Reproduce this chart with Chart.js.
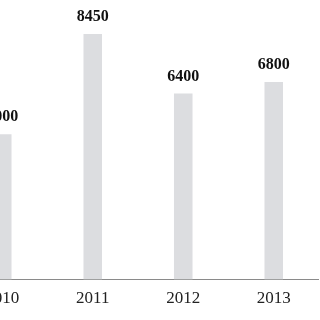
<!DOCTYPE html>
<html>
<head>
<meta charset="utf-8">
<script src="https://cdn.jsdelivr.net/npm/chart.js@4/dist/chart.umd.min.js"></script>
<style>
  html, body { margin: 0; padding: 0; background: #fff; overflow: hidden; width: 320px; height: 320px; }
  #wrap { position: absolute; left: -43px; top: -11px; width: 362px; height: 329px; }
</style>
</head>
<body>
<div id="wrap"><canvas id="mychart"></canvas></div>
<script>
var years = ['2010', '2011', '2012', '2013'];
var values = [5000, 8450, 6400, 6800];

// draw the numbers on top of each bar
var topLabels = {
  id: 'topLabels',
  afterDatasetsDraw: function(chart) {
    var ctx = chart.ctx;
    var meta = chart.getDatasetMeta(0);
    ctx.save();
    ctx.font = 'bold 16px "Liberation Serif", "Times New Roman", serif';
    ctx.fillStyle = '#111';
    ctx.textAlign = 'center';
    ctx.textBaseline = 'alphabetic';
    for (var i = 0; i < meta.data.length; i++) {
      var bar = meta.data[i];
      ctx.fillText(String(values[i]), bar.x, bar.y - 13);
    }
    ctx.restore();
  }
};

var ctx = document.getElementById('mychart').getContext('2d');
var chart = new Chart(ctx, {
  type: 'bar',
  data: {
    labels: years,
    datasets: [{
      data: values,
      backgroundColor: '#dcdde0',
      borderWidth: 0,
      barPercentage: 0.205,
      categoryPercentage: 1
    }]
  },
  options: {
    responsive: true,
    maintainAspectRatio: false,
    animation: false,
    layout: { padding: 0 },
    plugins: { legend: { display: false }, tooltip: { enabled: false } },
    scales: {
      x: {
        grid: { display: false, drawTicks: false },
        border: { display: true, color: '#8a8a8a', width: 1 },
        ticks: {
          padding: 9,
          color: '#222',
          font: { family: '"Liberation Serif", "Times New Roman", serif', size: 17 }
        }
      },
      y: {
        display: false,
        min: 0,
        max: 10000
      }
    }
  },
  plugins: [topLabels]
});
</script>
</body>
</html>
